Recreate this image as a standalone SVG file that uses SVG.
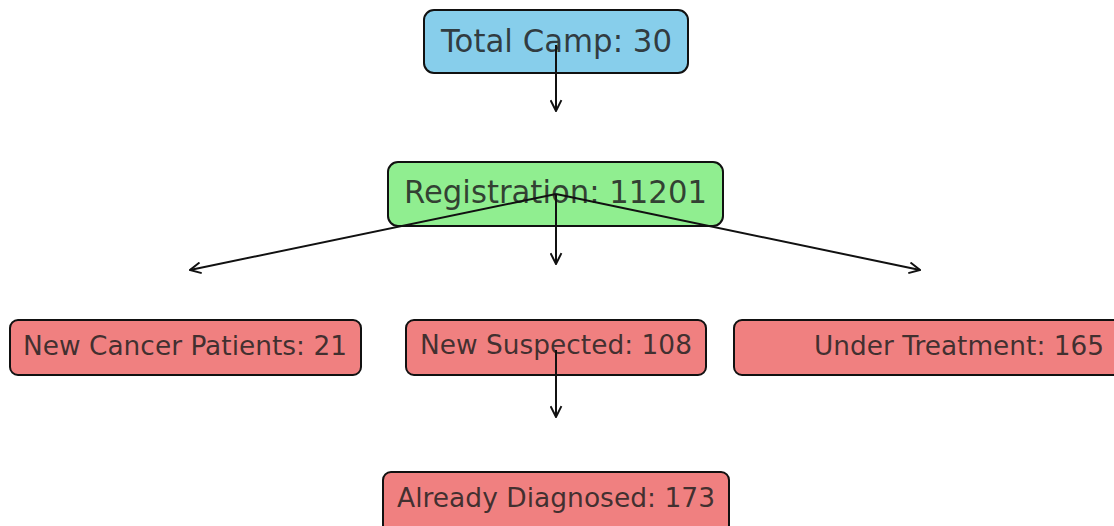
<svg xmlns="http://www.w3.org/2000/svg" width="1114" height="526" viewBox="0 0 1114 526">
<defs>
<marker id="ah" viewBox="0 0 12 12" refX="11" refY="6" markerWidth="13" markerHeight="13" markerUnits="userSpaceOnUse" orient="auto">
<path d="M1,1 L11,6 L1,11" fill="none" stroke="#111" stroke-width="1.8"/>
</marker>
<style>
.box{stroke:#111;stroke-width:2}
.t{font-family:"DejaVu Sans",sans-serif;fill:#222;fill-opacity:0.85;text-anchor:middle}
.big{font-size:31.5px}
.sm{font-size:26.5px}
.c{stroke:#111;stroke-width:2;fill:none}
</style>
</defs>
<rect width="1114" height="526" fill="#fff"/>
<g id="total">
<rect class="box" x="424" y="10" width="264" height="63" rx="10" fill="#87CEEB"/>
<text class="t big" x="556.5" y="52" textLength="231" lengthAdjust="spacingAndGlyphs">Total Camp: 30</text>
</g>
<g id="registration">
<rect class="box" x="388" y="162" width="335" height="64" rx="10" fill="#90EE90"/>
<text class="t big" x="555.5" y="203" textLength="303" lengthAdjust="spacingAndGlyphs">Registration: 11201</text>
</g>
<g id="newcancer">
<rect class="box" x="10" y="320" width="351" height="55" rx="8" fill="#F08080"/>
<text class="t sm" x="185" y="355" textLength="324" lengthAdjust="spacingAndGlyphs">New Cancer Patients: 21</text>
</g>
<g id="suspected">
<rect class="box" x="406" y="320" width="300" height="55" rx="8" fill="#F08080"/>
<text class="t sm" x="556" y="354" textLength="272" lengthAdjust="spacingAndGlyphs">New Suspected: 108</text>
</g>
<g id="treatment">
<rect class="box" x="734" y="320" width="392" height="55" rx="8" fill="#F08080"/>
<text class="t sm" x="959" y="355" textLength="290" lengthAdjust="spacingAndGlyphs">Under Treatment: 165</text>
</g>
<g id="diagnosed">
<rect class="box" x="383" y="472" width="346" height="64" rx="8" fill="#F08080"/>
<text class="t sm" x="556" y="507" textLength="318" lengthAdjust="spacingAndGlyphs">Already Diagnosed: 173</text>
</g>
<g id="connectors">
<line class="c" x1="556" y1="45" x2="556" y2="111" marker-end="url(#ah)"/>
<line class="c" x1="556" y1="194" x2="190" y2="270" marker-end="url(#ah)"/>
<line class="c" x1="556" y1="194" x2="556" y2="264" marker-end="url(#ah)"/>
<line class="c" x1="556" y1="194" x2="920" y2="270" marker-end="url(#ah)"/>
<line class="c" x1="556" y1="350" x2="556" y2="417" marker-end="url(#ah)"/>
</g>
</svg>
